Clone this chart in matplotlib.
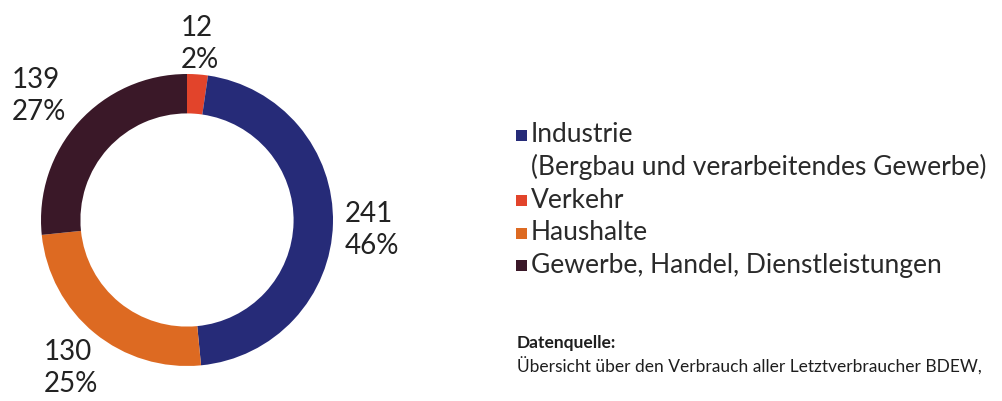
import numpy as np
import matplotlib
matplotlib.use("Agg")
import matplotlib.pyplot as plt
from matplotlib.patches import Rectangle

plt.rcParams['font.family'] = ['Lato', 'DejaVu Sans']

# data (order clockwise from 12 o'clock)
categories = ["Verkehr", "Industrie", "Haushalte", "Gewerbe, Handel, Dienstleistungen"]
values = [12, 241, 130, 139]
percents = ["2%", "46%", "25%", "27%"]
colors = ["#e2442b", "#262b78", "#dd6a22", "#3a1828"]

legend_labels = ["Industrie\n(Bergbau und verarbeitendes Gewerbe)", "Verkehr",
                 "Haushalte", "Gewerbe, Handel, Dienstleistungen"]
legend_colors = ["#262b78", "#e2442b", "#dd6a22", "#3a1828"]

fig = plt.figure(figsize=(10.02, 4.01), dpi=100)

# donut: centre at (187, 220) px, radius 146 px
cx, cy, r = 187, 220, 146
ax = fig.add_axes([(cx - r) / 1002, (401 - cy - r) / 401, 2 * r / 1002, 2 * r / 401])
wedges, _ = ax.pie(values, colors=colors, startangle=90, counterclock=False,
                   radius=1.0, wedgeprops=dict(width=0.27, linewidth=0))
ax.set_xlim(-1, 1)
ax.set_ylim(-1, 1)
ax.set_aspect('equal')
ax.axis('off')

# value labels around the ring
dist = [1.25, 1.27, 1.26, 1.33]
for w, v, p, d in zip(wedges, values, percents, dist):
    ang = np.deg2rad((w.theta1 + w.theta2) / 2)
    ax.text(d * np.cos(ang) + (-0.03 if d > 1.3 else 0), d * np.sin(ang) - 0.04,
            f"{v}\n{p}", ha='center', va='center',
            multialignment='left', fontsize=20, color='#222222',
            linespacing=1.3, clip_on=False)

# legend
ys = [135, 200, 233, 265]
for y, lab, c in zip(ys, legend_labels, legend_colors):
    fig.patches.append(Rectangle((516 / 1002, (401 - y - 5.5) / 401), 11 / 1002, 11 / 401,
                                 transform=fig.transFigure, facecolor=c, edgecolor='none'))
    lines = lab.split('\n')
    for i, line in enumerate(lines):
        fig.text(531 / 1002, (401 - y - 32 * i) / 401, line, ha='left', va='center',
                 fontsize=19, color='#2a2a2a')

# source
fig.text(517 / 1002, (401 - 343) / 401, "Datenquelle:", fontsize=12.5, fontweight='bold',
         color='#1e1e1e', va='center', ha='left')
fig.text(517 / 1002, (401 - 366) / 401, "Übersicht über den Verbrauch aller Letztverbraucher BDEW,",
         fontsize=12.5, color='#1e1e1e', va='center', ha='left')

fig.savefig("out.png", dpi=100)
